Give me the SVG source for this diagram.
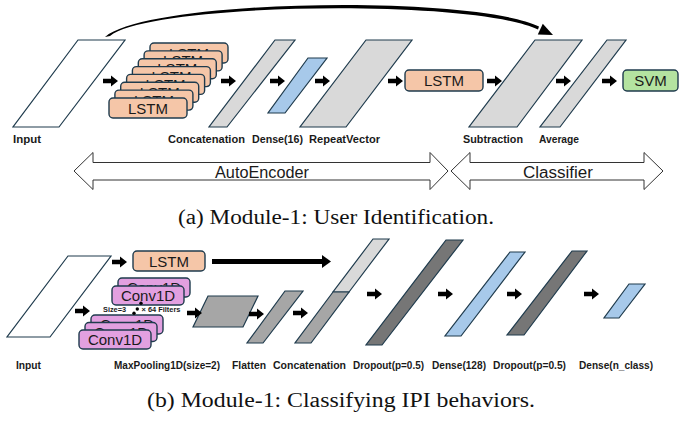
<svg xmlns="http://www.w3.org/2000/svg" xmlns:xlink="http://www.w3.org/1999/xlink" width="679" height="423" viewBox="0 0 679 423">
<style>
.pg{stroke:#1f3b4d;stroke-width:1.2;stroke-linejoin:miter}
.w{fill:#ffffff}.lg{fill:#d9d9d9}.mg{fill:#a6a6a6}.dg{fill:#767676}.bl{fill:#a7c9ea}
.lstm{fill:#f5c6a8;stroke:#1f3b4d;stroke-width:1.4}
.conv{fill:#e2a0e0;stroke:#1f3b4d;stroke-width:1.4}
.svm{fill:#b4e3a0;stroke:#1f3b4d;stroke-width:1.4}
.bt{font-family:"Liberation Sans",Arial,sans-serif;font-size:15px;fill:#1a1a1a;text-anchor:middle}
.lb{font-family:"Liberation Sans",Arial,sans-serif;font-weight:bold;fill:#1a1a1a}
.t{font-size:10.5px}.b{font-size:10px}
.sec{fill:#ffffff;stroke:#333333;stroke-width:1}
.st{font-family:"Liberation Sans",Arial,sans-serif;font-size:16px;fill:#1a1a1a;text-anchor:middle}
.cap{font-family:"Liberation Serif","Times New Roman",serif;font-size:20px;fill:#111}
.sm{font-family:"Liberation Sans",Arial,sans-serif;font-weight:bold;font-size:6.5px;fill:#1a1a1a}
</style>
<defs>
<path id="ba" d="M0,-2.2 H8 V-5.5 L15,0 L8,5.5 V2.2 H0 Z" fill="#000"/>
</defs>

<!-- ===== Module (a) ===== -->
<g id="a-input"><polygon class="pg w" points="78,40 125,40 59,127 13,127"/>
<text class="lb t" x="13" y="143" textLength="28" lengthAdjust="spacingAndGlyphs">Input</text></g>

<g id="a-lstm-stack">
<rect class="lstm" x="150" y="43" width="78" height="20" rx="4"/><text class="bt" x="189" y="58.5">LSTM</text>
<rect class="lstm" x="144.1" y="50.9" width="78" height="20" rx="4"/><text class="bt" x="183.1" y="66.4">LSTM</text>
<rect class="lstm" x="138.3" y="58.7" width="78" height="20" rx="4"/><text class="bt" x="177.3" y="74.2">LSTM</text>
<rect class="lstm" x="132.4" y="66.6" width="78" height="20" rx="4"/><text class="bt" x="171.4" y="82.1">LSTM</text>
<rect class="lstm" x="126.6" y="74.4" width="78" height="20" rx="4"/><text class="bt" x="165.6" y="89.9">LSTM</text>
<rect class="lstm" x="120.7" y="82.3" width="78" height="20" rx="4"/><text class="bt" x="159.7" y="97.8">LSTM</text>
<rect class="lstm" x="114.9" y="90.1" width="78" height="20" rx="4"/><text class="bt" x="153.9" y="105.6">LSTM</text>
<rect class="lstm" x="109" y="98" width="78" height="20" rx="4"/><text class="bt" x="148" y="113.5">LSTM</text>
</g>

<g id="a-concat"><polygon class="pg lg" points="275,40 295,40 227,127 209,127"/>
<text class="lb t" x="168" y="143" textLength="77" lengthAdjust="spacingAndGlyphs">Concatenation</text></g>
<g id="a-dense16"><polygon class="pg bl" points="308,58 327,58 285,113 268,113"/>
<text class="lb t" x="252" y="143" textLength="51" lengthAdjust="spacingAndGlyphs">Dense(16)</text></g>
<g id="a-repeat"><polygon class="pg lg" points="366,40 412,40 346,127 300,127"/>
<text class="lb t" x="309" y="143" textLength="71" lengthAdjust="spacingAndGlyphs">RepeatVector</text></g>
<g id="a-lstm"><rect class="lstm" x="405" y="70" width="78" height="21" rx="4"/><text class="bt" x="444" y="86">LSTM</text></g>
<g id="a-sub"><polygon class="pg lg" points="535,40 582,40 517,127 469,127"/>
<text class="lb t" x="463" y="143" textLength="60" lengthAdjust="spacingAndGlyphs">Subtraction</text></g>
<g id="a-avg"><polygon class="pg lg" points="607,40 626,40 560,127 540,127"/>
<text class="lb t" x="539" y="143" textLength="40" lengthAdjust="spacingAndGlyphs">Average</text></g>
<g id="a-svm"><rect class="svm" x="623" y="70" width="55" height="21" rx="4"/><text class="bt" x="650.5" y="86">SVM</text></g>

<g id="a-connectors">
<use href="#ba" x="103" y="81"/>
<use href="#ba" x="221" y="81"/>
<use href="#ba" x="270" y="81"/>
<use href="#ba" x="315" y="81"/>
<use href="#ba" x="388" y="81"/>
<use href="#ba" x="487" y="81"/>
<use href="#ba" x="556" y="81"/>
<use href="#ba" x="602" y="81"/>
<path d="M105,37 C150,-1 470,-6 539,26.5 L538,29.5 C470,-2 150,3 110,36 Z" fill="#000"/>
<polygon points="553,35 537.8,34.5 542.8,23.7" fill="#000"/>
</g>

<g id="a-sections">
<polygon class="sec" points="74,171 93,152.5 93,162.5 430,162.5 430,152.5 448,171 430,189.5 430,180 93,180 93,189.5"/>
<text class="st" x="262" y="178" textLength="94" lengthAdjust="spacingAndGlyphs">AutoEncoder</text>
<polygon class="sec" points="451,171 470,152.5 470,162.5 644,162.5 644,152.5 663,171 644,189.5 644,180 470,180 470,189.5"/>
<text class="st" x="558" y="178" textLength="70" lengthAdjust="spacingAndGlyphs">Classifier</text>
</g>
<text class="cap" x="178" y="224" textLength="316" lengthAdjust="spacingAndGlyphs">(a) Module-1: User Identification.</text>

<!-- ===== Module (b) ===== -->
<g id="b-input"><polygon class="pg w" points="68,256 111,256 50,337 7,337"/>
<text class="lb b" x="16" y="369" textLength="25" lengthAdjust="spacingAndGlyphs">Input</text></g>
<g id="b-lstm"><rect class="lstm" x="133" y="251" width="72" height="20" rx="4"/><text class="bt" x="169" y="266.5">LSTM</text></g>

<g id="b-conv-top">
<rect class="conv" x="118" y="278" width="72" height="19" rx="4"/><text class="bt" x="154" y="293">Conv1D</text>
<rect class="conv" x="112" y="286" width="72" height="19" rx="4"/><text class="bt" x="148" y="301">Conv1D</text>
</g>
<g id="b-conv-bottom">
<rect class="conv" x="91" y="315" width="72" height="19" rx="4"/><text class="bt" x="127" y="330">Conv1D</text>
<rect class="conv" x="85" y="322.5" width="72" height="19" rx="4"/><text class="bt" x="121" y="337.5">Conv1D</text>
<rect class="conv" x="79" y="330" width="72" height="19" rx="4"/><text class="bt" x="115" y="345">Conv1D</text>
</g>
<g id="b-conv-note">
<circle cx="141" cy="303.3" r="1.7" fill="#000"/>
<circle cx="137.3" cy="309" r="1.7" fill="#000"/>
<circle cx="134" cy="313.3" r="1.7" fill="#000"/>
<text class="sm" x="103" y="312" textLength="23" lengthAdjust="spacingAndGlyphs">Size=3</text>
<text class="sm" x="141.5" y="312" textLength="39" lengthAdjust="spacingAndGlyphs">× 64 Filters</text>
</g>

<g id="b-maxpool"><polygon class="pg mg" points="208,296 258,296 243,327 193,327"/>
<text class="lb b" x="114" y="369" textLength="106" lengthAdjust="spacingAndGlyphs">MaxPooling1D(size=2)</text></g>
<g id="b-flatten"><polygon class="pg mg" points="285,291 303,291 263,343 247,343"/>
<text class="lb b" x="232" y="369" textLength="34" lengthAdjust="spacingAndGlyphs">Flatten</text></g>
<g id="b-concat">
<polygon class="pg lg" points="373,239 389,239 349,292 333,292"/>
<polygon class="pg mg" points="333,292 349,292 311,343 295,343"/>
<text class="lb b" x="273" y="369" textLength="73" lengthAdjust="spacingAndGlyphs">Concatenation</text></g>
<g id="b-dropout1"><polygon class="pg dg" points="446,240 463,240 382,345 366,345"/>
<text class="lb b" x="353" y="369" textLength="71" lengthAdjust="spacingAndGlyphs">Dropout(p=0.5)</text></g>
<g id="b-dense128"><polygon class="pg bl" points="510,252 525,252 461,336 445,336"/>
<text class="lb b" x="432" y="369" textLength="54" lengthAdjust="spacingAndGlyphs">Dense(128)</text></g>
<g id="b-dropout2"><polygon class="pg dg" points="572,251 587,251 524,335 507,335"/>
<text class="lb b" x="493" y="369" textLength="73" lengthAdjust="spacingAndGlyphs">Dropout(p=0.5)</text></g>
<g id="b-densen"><polygon class="pg bl" points="629,284 645,284 619,318 604,318"/>
<text class="lb b" x="579" y="369" textLength="74" lengthAdjust="spacingAndGlyphs">Dense(n_class)</text></g>

<g id="b-connectors">
<use href="#ba" x="112" y="262"/>
<use href="#ba" x="75" y="311"/>
<use href="#ba" x="187" y="313"/>
<use href="#ba" x="249" y="314"/>
<use href="#ba" x="293" y="313"/>
<use href="#ba" x="367" y="294"/>
<use href="#ba" x="438" y="294"/>
<use href="#ba" x="507" y="294"/>
<use href="#ba" x="584" y="294"/>
<rect x="212" y="259" width="111" height="5" fill="#000"/>
<polygon points="322,255 331,261.5 322,268" fill="#000"/>
</g>
<text class="cap" x="147" y="407" textLength="388" lengthAdjust="spacingAndGlyphs">(b) Module-1: Classifying IPI behaviors.</text>
</svg>
